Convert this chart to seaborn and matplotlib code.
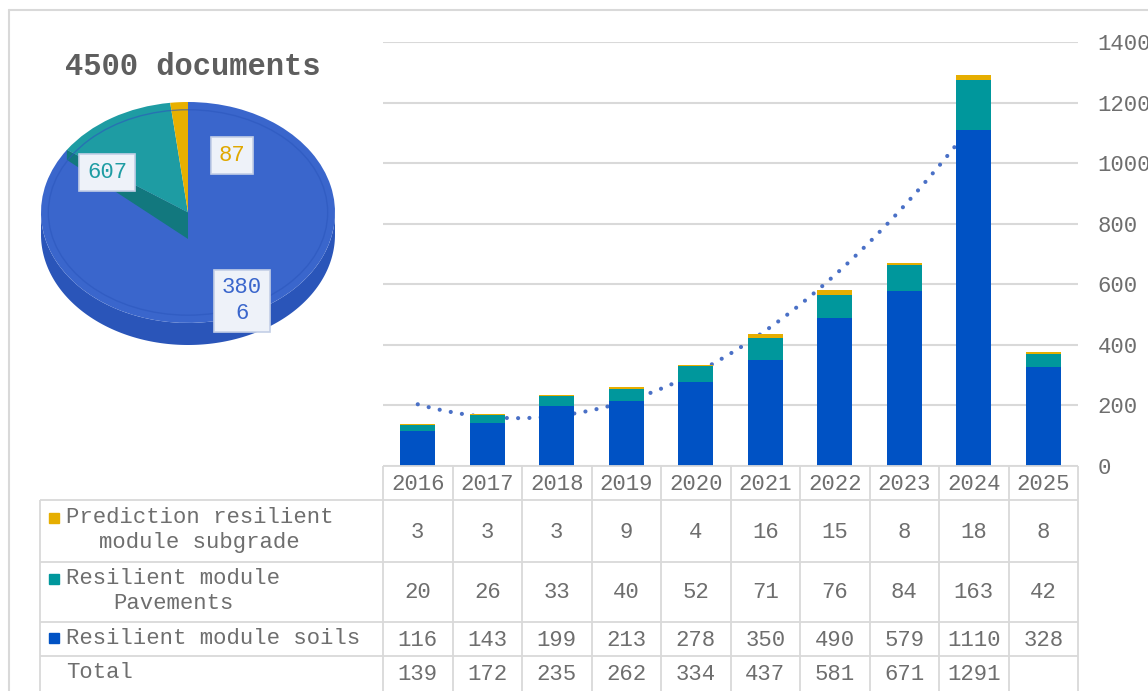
import textwrap

import matplotlib
matplotlib.use("Agg")
import matplotlib.pyplot as plt
from matplotlib.lines import Line2D
from matplotlib.patches import Ellipse, Polygon
import numpy as np
import pandas as pd
import seaborn as sns

# ---- data -------------------------------------------------------------
years = ["2016", "2017", "2018", "2019", "2020", "2021", "2022", "2023", "2024", "2025"]
prediction_subgrade = [3, 3, 3, 9, 4, 16, 15, 8, 18, 8]
pavements = [20, 26, 33, 40, 52, 71, 76, 84, 163, 42]
soils = [116, 143, 199, 213, 278, 350, 490, 579, 1110, 328]
totals = [139, 172, 235, 262, 334, 437, 581, 671, 1291, None]

row_labels = [
    "Prediction resilient\nmodule subgrade",
    "Resilient module\nPavements",
    "Resilient module soils",
    "Total",
]
pie_values = [3806, 607, 87]
y_ticks = [0, 200, 400, 600, 800, 1000, 1200, 1400]

# ---- style ------------------------------------------------------------
BLUE = "#0052C4"
TEAL = "#00979C"
GOLD = "#E6AE00"
PIE_BLUE = "#3A66CC"
PIE_BLUE_SIDE = "#2A55B9"
PIE_TEAL = "#1E9CA3"
PIE_TEAL_WALL = "#12787E"
PIE_GOLD = "#E8B000"
TREND = "#4A70C6"
GRAY = "#6E6E6E"
TITLE_GRAY = "#5E5E5E"
LINE = "#D9D9D9"

sns.set_style("white")
plt.rcParams["font.family"] = ["Liberation Mono", "DejaVu Sans Mono"]
plt.rcParams["text.color"] = GRAY

W, H = 1148, 691
fig = plt.figure(figsize=(W / 100, H / 100), dpi=100)


def px_axes(x0, y0, x1, y1):
    return fig.add_axes([x0 / W, 1 - y1 / H, (x1 - x0) / W, (y1 - y0) / H])


# ---- stacked bars -----------------------------------------------------
df = pd.DataFrame({
    "year": years,
    "soils": soils,
    "pavements": pavements,
    "prediction": prediction_subgrade,
})
df["soils_pav"] = df["soils"] + df["pavements"]
df["all"] = df["soils_pav"] + df["prediction"]

ax = px_axes(383, 42, 1078, 466)
for col, colr in [("all", GOLD), ("soils_pav", TEAL), ("soils", BLUE)]:
    sns.barplot(data=df, x="year", y=col, color=colr, width=0.5,
                saturation=1, linewidth=0, ax=ax)

# second-order polynomial trend of the yearly totals
tot = np.array([t for t in totals if t is not None], dtype=float)
xi = np.arange(len(tot))
coef = np.polyfit(xi, tot, 2)
xs = np.linspace(xi[0], xi[-1], 300)
ax.plot(xs, np.polyval(coef, xs), color=TREND, lw=3.0,
        linestyle=(0, (0.01, 2.7)), dash_capstyle="round", zorder=0.8)

ax.set_xlim(-0.5, len(years) - 0.5)
ax.set_ylim(0, 1400)
ax.set_yticks(y_ticks)
ax.yaxis.tick_right()
ax.tick_params(axis="y", length=0, pad=14, labelsize=16, labelcolor=GRAY)
ax.tick_params(axis="x", bottom=False, labelbottom=False)
ax.set_xlabel("")
ax.set_ylabel("")
for s in ax.spines.values():
    s.set_visible(False)
ax.yaxis.grid(True, color=LINE, lw=1.5)
ax.xaxis.grid(False)
ax.set_axisbelow(True)

# ---- data table -------------------------------------------------------
col_w = (1078 - 383) / len(years)
x_left = -0.5 + (40 - 383) / col_w
tax = px_axes(40, 466, 1078, 691)
tax.set_xlim(x_left, len(years) - 0.5)
tax.set_ylim(691, 466)
tax.axis("off")

row_edges = [466, 500, 562, 622, 656, 691]
kw = dict(color=LINE, lw=1.3, clip_on=False, solid_capstyle="butt")
for k in range(len(years) + 1):
    tax.plot([k - 0.5, k - 0.5], [466, 691], **kw)
tax.plot([x_left, x_left], [500, 691], **kw)
tax.plot([-0.5, len(years) - 0.5], [466, 466], **kw)
for yy in row_edges[1:-1]:
    tax.plot([x_left, len(years) - 0.5], [yy, yy], **kw)

for i, yr in enumerate(years):
    tax.text(i, 484, yr, ha="center", va="center", fontsize=16, color=GRAY)

row_vals = [prediction_subgrade, pavements, soils, totals]
key_colors = [GOLD, TEAL, BLUE, None]
for r, (lab, vals, kc) in enumerate(zip(row_labels, row_vals, key_colors)):
    yc = (row_edges[r + 1] + row_edges[r + 2]) / 2
    for i, v in enumerate(vals):
        if v is not None:
            tax.text(i, yc + 1, str(v), ha="center", va="center",
                     fontsize=16, color=GRAY)
    tax.text(x_left + 26 / col_w, yc - 1, lab, ha="left", va="center",
             multialignment="center", fontsize=16, color=GRAY,
             linespacing=1.2)
    if kc is not None:
        n_lines = lab.count("\n") + 1
        ky = yc - 1 - 12.5 * (n_lines - 1)
        tax.plot([x_left + 14 / col_w], [ky], marker="s", ms=7.5,
                 color=kc, clip_on=False, lw=0)

# ---- 3D-looking pie ---------------------------------------------------
pax = px_axes(41, 102, 335, 345)
depth = 0.2
t = np.linspace(np.pi, 2 * np.pi, 200)
side = np.concatenate([
    np.column_stack([np.cos(t), np.sin(t)]),
    np.column_stack([np.cos(t[::-1]), np.sin(t[::-1]) - depth]),
])
pax.add_patch(Polygon(side, closed=True, fc=PIE_BLUE_SIDE, ec="none", zorder=1))

wedges, _ = pax.pie(pie_values, colors=[PIE_BLUE, PIE_TEAL, PIE_GOLD],
                    startangle=90, counterclock=False, radius=1,
                    wedgeprops=dict(linewidth=0, zorder=2))

# wall under the teal slice
a = np.deg2rad(90 - 360 * pie_values[0] / sum(pie_values))
px, py = np.cos(a), np.sin(a)
pax.add_patch(Polygon([[px, py], [0, 0], [0, -0.24], [px, py - 0.09]],
                      closed=True, fc=PIE_TEAL_WALL, ec="none", zorder=3))
# faint bevel of the top face
pax.add_patch(Ellipse((0, 0), 1.9, 1.86, fill=False, ec="#2C57BD",
                      lw=1.0, alpha=0.6, zorder=3))

pax.set_aspect("auto")
pax.set_xlim(-1, 1)
pax.set_ylim(-1 - depth, 1)
pax.axis("off")

label_pos = [(0.367, -0.80), (-0.551, 0.364), (0.299, 0.518)]
label_colors = [PIE_BLUE, PIE_TEAL, "#E0A800"]
for v, (lx, ly), lc in zip(pie_values, label_pos, label_colors):
    txt = "\n".join(textwrap.wrap(str(v), 3))
    pax.text(lx, ly, txt, ha="center", va="center", fontsize=16, color=lc,
             multialignment="center", linespacing=1.3, zorder=5,
             bbox=dict(boxstyle="square,pad=0.35", fc="#EEF2F9",
                       ec="#C3CFE6", lw=1.2))

fig.text(193 / W, 1 - 67 / H, f"{sum(pie_values)} documents", ha="center",
         va="center", fontsize=22, fontweight="bold", color=TITLE_GRAY)

# ---- outer frame ------------------------------------------------------
fig.add_artist(Line2D([9 / W, 1], [1 - 10 / H, 1 - 10 / H], color=LINE, lw=1.5))
fig.add_artist(Line2D([9 / W, 9 / W], [0, 1 - 10 / H], color=LINE, lw=1.5))

fig.savefig("out.png", dpi=100)
